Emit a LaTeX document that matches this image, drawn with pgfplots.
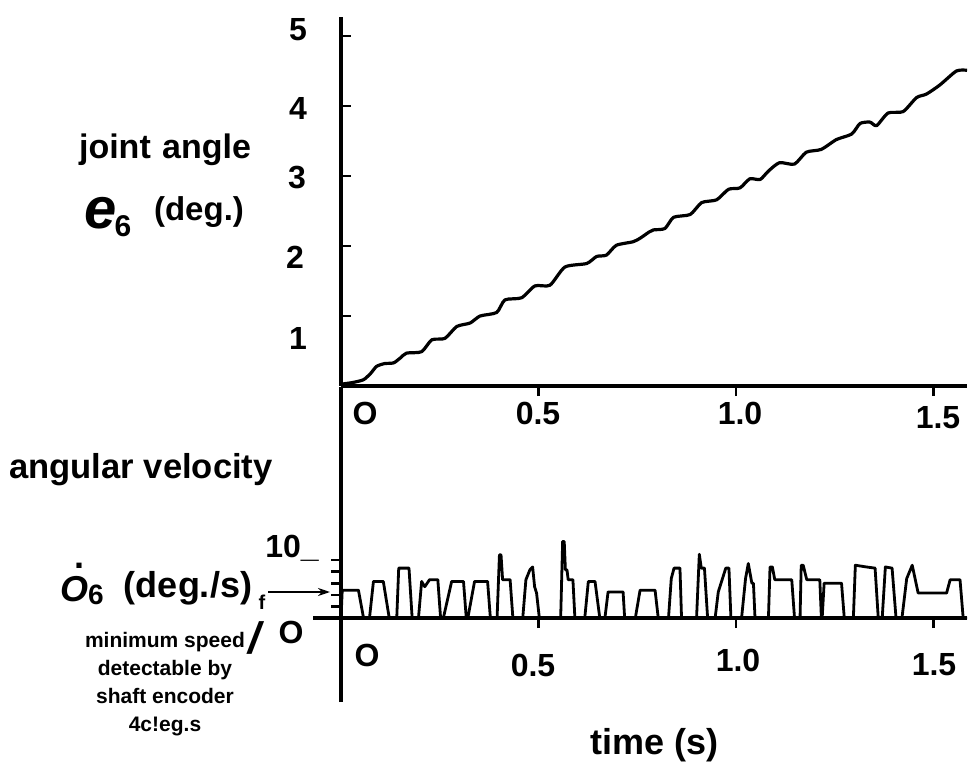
\documentclass[border=0pt]{standalone}
\usepackage{pgfplots}
\pgfplotsset{compat=1.18}
\usepackage{fontspec}
\setmainfont{Liberation Sans}
\usetikzlibrary{arrows.meta}
\newcommand{\fs}[1]{\fontsize{#1}{#1}\selectfont\bfseries}
\begin{document}
\begin{tikzpicture}
\path[use as bounding box] (0,0) rectangle (484pt,-385pt);

% ---------- top panel: joint angle ----------
\begin{axis}[
  anchor=south west, at={(170.5pt,-193pt)},
  x=197.5pt, y=35pt,
  xmin=0, xmax=1.585, ymin=0, ymax=5.27,
  axis x line=bottom, axis y line=left,
  axis line style={line width=1.6pt,-},
  xtick={0.5,1,1.5}, ytick={1,2,3,4,5},
  xticklabels={}, yticklabels={},
  xtick align=outside, ytick align=inside,
  major tick length=5pt,
  tick style={line width=1.4pt,black},
  clip=false,
]
\addplot[black, line width=1.6pt, line join=round, smooth, tension=0.4] coordinates {
(0.000,0.02) (0.006,0.03) (0.030,0.05) (0.057,0.09) (0.075,0.18) (0.090,0.28)
(0.110,0.32) (0.133,0.33) (0.150,0.40) (0.166,0.47) (0.204,0.49) (0.230,0.66)
(0.263,0.68) (0.293,0.85) (0.327,0.90) (0.352,1.00) (0.394,1.05) (0.415,1.23)
(0.457,1.26) (0.491,1.43) (0.529,1.44) (0.567,1.70) (0.622,1.75) (0.647,1.85)
(0.672,1.87) (0.697,2.01) (0.739,2.06) (0.757,2.11) (0.780,2.20) (0.791,2.23)
(0.820,2.25) (0.842,2.41) (0.884,2.45) (0.913,2.62) (0.951,2.66) (0.981,2.81)
(1.010,2.83) (1.035,2.96) (1.061,2.95) (1.082,3.07) (1.110,3.19) (1.148,3.17)
(1.178,3.34) (1.216,3.38) (1.254,3.52) (1.293,3.60) (1.314,3.75) (1.339,3.77)
(1.356,3.72) (1.385,3.90) (1.423,3.92) (1.457,4.12) (1.482,4.17) (1.516,4.30)
(1.558,4.50) (1.585,4.51)
};
\end{axis}

% ---------- bottom panel: angular velocity ----------
\begin{axis}[
  anchor=south west, at={(156.5pt,-351.05pt)},
  x=197.5pt, y=2.9pt,
  xmin=-0.071, xmax=1.585, ymin=-14.5, ymax=39.8,
  axis x line=middle, axis y line=middle,
  axis line style={line width=1.6pt,-},
  xtick={0.5,1,1.5}, ytick={2,4,6,8,10},
  xticklabels={}, yticklabels={},
  xtick align=outside, ytick align=outside,
  major tick length=5pt,
  tick style={line width=1.3pt,black},
  clip=false,
]
\addplot[black, line width=1.4pt, line join=round] coordinates {
(0.000,0) (0.003,4.8) (0.044,4.8) (0.057,0)
(0.072,0) (0.082,6.3) (0.107,6.3) (0.122,0)
(0.141,0) (0.146,8.6) (0.172,8.6) (0.180,0)
(0.196,0) (0.204,6.3) (0.212,5.4) (0.224,6.6) (0.245,6.6) (0.252,0)
(0.259,0) (0.280,6.3) (0.310,6.3) (0.317,0)
(0.321,0) (0.338,6.3) (0.371,6.3) (0.378,0)
(0.395,0) (0.401,10.9) (0.405,10.9) (0.409,6.6) (0.428,6.6) (0.435,0)
(0.460,0) (0.468,6.6) (0.478,8.3) (0.485,8.8) (0.490,5.4) (0.495,4.3) (0.502,0)
(0.556,0) (0.561,13.2) (0.565,13.2) (0.568,8.3) (0.572,8.3) (0.575,6.6) (0.587,6.6) (0.592,0)
(0.617,0) (0.626,6.3) (0.643,6.3) (0.655,0)
(0.668,0) (0.676,4.5) (0.714,4.5) (0.718,0)
(0.745,0) (0.757,4.8) (0.795,4.8) (0.803,0)
(0.829,0) (0.836,6.8) (0.843,8.6) (0.858,8.6) (0.862,0)
(0.900,0) (0.907,11.0) (0.912,8.6) (0.920,8.6) (0.928,0)
(0.947,0) (0.955,4.5) (0.974,8.6) (0.982,8.6) (0.987,0)
(1.014,0) (1.024,6.8) (1.031,9.4) (1.040,6.0) (1.044,6.0) (1.048,0)
(1.082,0) (1.086,8.8) (1.092,8.8) (1.098,6.6) (1.141,6.6) (1.148,0)
(1.162,0) (1.165,9.1) (1.170,9.1) (1.179,6.6) (1.212,6.6) (1.216,0)
(1.218,0) (1.223,6.0) (1.267,6.0) (1.274,0)
(1.297,0) (1.302,9.1) (1.330,8.8) (1.352,8.6) (1.360,0)
(1.370,0) (1.378,8.8) (1.395,8.6) (1.405,0)
(1.420,0) (1.432,6.8) (1.446,9.1) (1.461,4.3) (1.533,4.3) (1.542,6.6) (1.567,6.6) (1.575,0) (1.585,0)
};
\end{axis}

% ---------- texts (pixel coordinates) ----------
\begin{scope}[x=0.5pt, y=-0.5pt]
% top y tick labels
\node[font=\fs{16}] at (298,30) {5};
\node[font=\fs{16}] at (298,108) {4};
\node[font=\fs{16}] at (297,178) {3};
\node[font=\fs{16}] at (295,257) {2};
\node[font=\fs{16}] at (298,338) {1};
% top x tick labels
\node[font=\fs{16}] at (365,413) {O};
\node[font=\fs{16}] at (538,413) {0.5};
\node[font=\fs{16}] at (740,413) {1.0};
\node[font=\fs{16}] at (938,418) {1.5};
% bottom x tick labels
\node[font=\fs{16}] at (367,655) {O};
\node[font=\fs{16}] at (533,665) {0.5};
\node[font=\fs{16}] at (738,660) {1.0};
\node[font=\fs{16}] at (934,665) {1.5};
% bottom y labels
\node[font=\fs{16}] at (292,548) {10\_};
\node[font=\fs{16}] at (291,632) {O};
\node[font=\fs{22}\itshape] at (255,638) {/};
% top axis title
\node[font=\fs{17}] at (165,150) {joint\,\,angle};
\node[font=\fs{29}\itshape] at (101,213) {e};
\node[font=\fs{15}] at (123,226) {6};
\node[font=\fs{16.5}] at (199,212) {(deg.)};
% bottom axis title
\node[font=\fs{17.3}] at (141,470) {angular velocity};
\node[font=\fs{18}\itshape, inner sep=0pt] at (74,589) {O};
\node[font=\fs{18}, inner sep=0pt] at (79,566) {.};
\node[font=\fs{14}] at (96,595) {6};
\node[font=\fs{18}] at (188,588) {(deg./s)};
\node[font=\fs{10}] at (262,602) {f};
\draw[line width=1.2pt, -{Stealth[length=6pt,width=4pt]}] (268,592) -- (330,592);
\node[font=\fontsize{10.5}{14}\selectfont\bfseries, align=center] at (165,684) {minimum speed\\detectable by\\shaft encoder\\4c!eg.s};
% x axis title
\node[font=\fs{18}] at (655,745) {time (s)};
\end{scope}
\end{tikzpicture}
\end{document}
